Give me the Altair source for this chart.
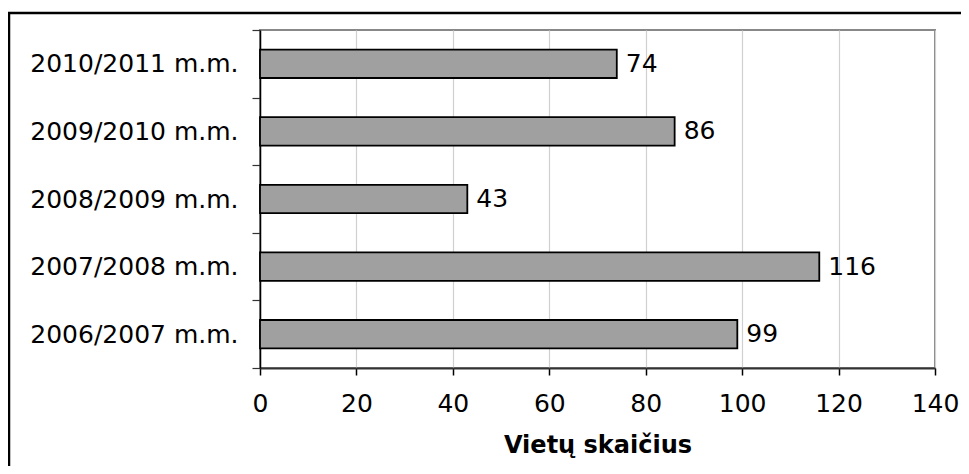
import altair as alt
import pandas as pd

years = ["2010/2011 m.m.", "2009/2010 m.m.", "2008/2009 m.m.", "2007/2008 m.m.", "2006/2007 m.m."]
values = [74, 86, 43, 116, 99]
x_ticks = [0, 20, 40, 60, 80, 100, 120, 140]

df = pd.DataFrame({"year": years, "value": values})

FONT = "DejaVu Sans"

x = alt.X(
    "value:Q",
    scale=alt.Scale(domain=[0, 140], nice=False),
    axis=alt.Axis(
        values=x_ticks,
        title="Vietų skaičius",
        titleFont=FONT,
        titleFontSize=24,
        titleFontWeight="bold",
        titleColor="black",
        titlePadding=17,
        labelFont=FONT,
        labelFontSize=25,
        labelColor="black",
        labelPadding=16,
        labelFlush=False,
        tickSize=7,
        tickColor="black",
        tickWidth=1.5,
        domainColor="#333333",
        domainWidth=2,
        grid=True,
        gridColor="#d0d0d0",
        gridWidth=1.2,
    ),
)
y = alt.Y(
    "year:N",
    sort=years,
    scale=alt.Scale(paddingInner=0, paddingOuter=0),
    axis=alt.Axis(
        title=None,
        labelFont=FONT,
        labelFontSize=25,
        labelColor="black",
        labelPadding=14,
        labelLimit=0,
        tickBand="extent",
        tickSize=8,
        tickColor="#333333",
        tickWidth=1.2,
        domainColor="black",
        domainWidth=1.5,
        grid=False,
    ),
)

bars = alt.Chart(df).mark_bar(
    color="#a0a0a0", stroke="black", strokeWidth=1.8, height={"band": 0.42}
).encode(x=x, y=y)

labels = alt.Chart(df).mark_text(
    align="left", baseline="middle", dx=9, font=FONT, fontSize=25, color="black"
).encode(x="value:Q", y=alt.Y("year:N", sort=years), text="value:Q")

frame = alt.Chart(alt.Data(values=[{"a": 1}])).mark_rect(
    fill=None, stroke="black", strokeWidth=2.5
).encode(
    x=alt.value(-251), x2=alt.value(730), y=alt.value(-17), y2=alt.value(480)
)

chart = alt.layer(bars, labels, frame).properties(
    width=675,
    height=338,
    padding={"left": 252, "top": 22, "right": 26, "bottom": 98},
    autosize=alt.AutoSizeParams(type="none"),
).configure_view(stroke="#888888", strokeWidth=2)

chart.save("out.html", embed_options={"renderer": "svg", "actions": False})
